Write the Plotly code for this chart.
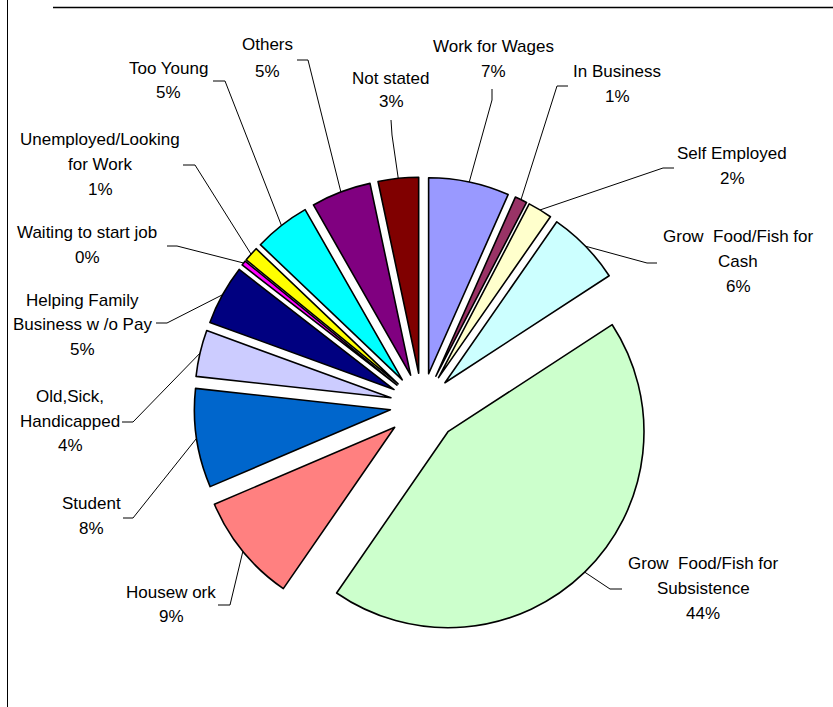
import math
import plotly.graph_objects as go

# Figure size in pixels
W, H = 833, 707

# ---- data -------------------------------------------------------------
categories = [
    "Work for Wages", "In Business", "Self Employed",
    "Grow Food/Fish for Cash", "Grow Food/Fish for Subsistence",
    "Housework", "Student", "Old,Sick,Handicapped",
    "Helping Family Business w/o Pay", "Waiting to start job",
    "Unemployed/Looking for Work", "Too Young", "Others", "Not stated",
]
values = [6.6, 1.0, 2.0, 6.1, 43.5, 8.9, 8.1, 3.8, 4.9, 0.4, 1.2, 4.6, 4.9, 3.3]

# label text lines (as printed next to each slice; percent line appended)
label_lines = [
    ["Work for Wages"],
    ["In Business"],
    ["Self Employed"],
    ["Grow\u00a0 Food/Fish for", "Cash"],
    ["Grow\u00a0 Food/Fish for", "Subsistence"],
    ["Housew ork"],
    ["Student"],
    ["Old,Sick,", "Handicapped"],
    ["Helping Family", "Business w /o Pay"],
    ["Waiting to start job"],
    ["Unemployed/Looking", "for Work"],
    ["Too Young"],
    ["Others"],
    ["Not stated"],
]

# ---- styling ----------------------------------------------------------
colors = [
    "#9999FF", "#993366", "#FFFFCC", "#CCFFFF", "#CCFFCC",
    "#FF8080", "#0066CC", "#CCCCFF", "#000080", "#FF00FF",
    "#FFFF00", "#00FFFF", "#800080", "#800000",
]
pulls = [0.163] * len(values)
pulls[4] = 0.19   # subsistence slice
pulls[5] = 0.18   # housework slice

# pie placement (pixels)
CX, CY = 422.0, 405.0
SIDE = 466.5
R = (SIDE / 2) / (1 + max(pulls))

# label layout: text centre x, y of each line, leader elbow and tail (pixels)
label_x = [493, 617, 732, 738, 703, 171, 91, 70, 82, 87, 100, 168, 267, 391]
label_y = [
    [47, 72], [72, 97], [153, 179], [237, 262, 286], [563, 588, 613],
    [592, 616], [503, 528], [397, 422, 445], [300, 324, 349], [233, 257],
    [140, 164, 189], [68, 92], [45, 71], [78, 102],
]
leader_elbow = [
    (492, 100), (557, 86), (663, 168), (647, 263), (610, 589),
    (230, 605), (133, 518), (133, 422), (167, 323), (177, 246),
    (195, 165), (225, 81), (308, 60), (392, 135),
]
leader_tail = [
    (492, 89), (568, 86), (674, 168), (657, 263), (622, 589),
    (218, 605), (123, 518), (122, 422), (156, 323), (167, 246),
    (183, 165), (213, 81), (297, 60), (391, 120),
]
FONT = "Liberation Sans, Arial, sans-serif"
FONT_SIZE = 17


def px(x):
    return x / W


def py(y):
    return 1 - y / H


fig = go.Figure(
    go.Pie(
        labels=categories,
        values=values,
        sort=False,
        direction="clockwise",
        rotation=0,
        pull=pulls,
        textinfo="none",
        hoverinfo="label+percent",
        marker=dict(colors=colors, line=dict(color="#000000", width=1.6)),
        domain=dict(
            x=[px(CX - SIDE / 2), px(CX + SIDE / 2)],
            y=[py(CY + SIDE / 2), py(CY - SIDE / 2)],
        ),
        showlegend=False,
    )
)

total = sum(values)
annotations = []
shapes = []
cum = 0.0
for i, v in enumerate(values):
    start = cum / total * 360
    cum += v
    end = cum / total * 360
    mid = math.radians((start + end) / 2)
    dx, dy = math.sin(mid), -math.cos(mid)
    # pulled slice centre, then point on the slice arc at mid-angle
    ox = CX + pulls[i] * R * dx
    oy = CY + pulls[i] * R * dy
    ax, ay = ox + R * dx, oy + R * dy

    pct = f"{round(v / total * 100):.0f}%"
    lines = label_lines[i] + [pct]
    for text, ly in zip(lines, label_y[i]):
        annotations.append(dict(
            x=px(label_x[i]), y=py(ly), xref="paper", yref="paper",
            text=text, showarrow=False, xanchor="center", yanchor="middle",
            font=dict(family=FONT, size=FONT_SIZE, color="#000000"),
        ))

    ex, ey = leader_elbow[i]
    tx, ty = leader_tail[i]
    shapes.append(dict(
        type="path", xref="paper", yref="paper",
        path=f"M {px(ax)},{py(ay)} L {px(ex)},{py(ey)} L {px(tx)},{py(ty)}",
        line=dict(color="#000000", width=1),
    ))

# frame lines of the chart area
shapes.append(dict(type="line", xref="paper", yref="paper",
                   x0=px(53), x1=1, y0=py(7.5), y1=py(7.5),
                   line=dict(color="#000000", width=1.6)))
shapes.append(dict(type="line", xref="paper", yref="paper",
                   x0=px(7.5), x1=px(7.5), y0=py(0), y1=py(H),
                   line=dict(color="#000000", width=1)))

fig.update_layout(
    width=W, height=H,
    margin=dict(l=0, r=0, t=0, b=0),
    paper_bgcolor="#FFFFFF",
    plot_bgcolor="#FFFFFF",
    annotations=annotations,
    shapes=shapes,
    showlegend=False,
)

fig.write_html("out.html")
